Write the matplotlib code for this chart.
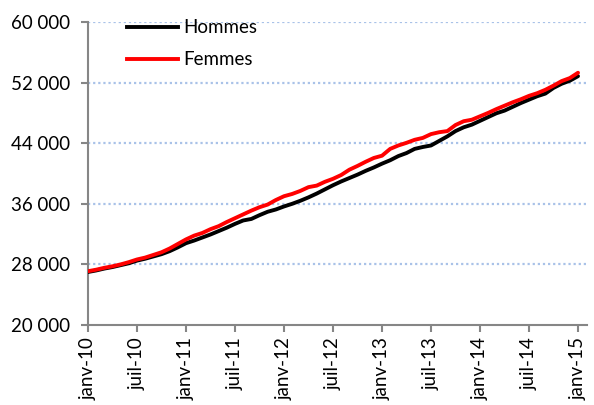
import numpy as np
import matplotlib.pyplot as plt
from matplotlib.lines import Line2D

plt.rcParams['font.family'] = ['Lato', 'DejaVu Sans']

# monthly series, janv-10 .. janv-15
hommes = [27000, 27200, 27450, 27650, 27900, 28150, 28500, 28750, 29050, 29350,
          29750, 30250, 30800, 31150, 31550, 31950, 32400, 32850, 33350, 33800,
          34000, 34500, 34950, 35250, 35650, 36000, 36400, 36850, 37350, 37900,
          38450, 38950, 39400, 39850, 40350, 40800, 41300, 41750, 42300, 42700,
          43250, 43500, 43700, 44300, 44900, 45600, 46100, 46450, 46950, 47450,
          47950, 48300, 48800, 49300, 49750, 50200, 50550, 51300, 51850, 52250,
          52850]
femmes = [27100, 27300, 27550, 27750, 28000, 28300, 28650, 28900, 29250, 29600,
          30100, 30700, 31300, 31800, 32150, 32650, 33050, 33600, 34100, 34600,
          35100, 35550, 35900, 36500, 37000, 37300, 37700, 38200, 38400, 38900,
          39300, 39800, 40500, 41000, 41550, 42050, 42350, 43250, 43700, 44050,
          44450, 44700, 45200, 45450, 45600, 46400, 46900, 47100, 47550, 48000,
          48500, 48950, 49400, 49800, 50250, 50600, 51050, 51600, 52200, 52600,
          53300]
xlabels = ["janv-10", "juil-10", "janv-11", "juil-11", "janv-12", "juil-12",
           "janv-13", "juil-13", "janv-14", "juil-14", "janv-15"]
yticks = [20000, 28000, 36000, 44000, 52000, 60000]

months = np.arange(len(hommes))

fig = plt.figure(figsize=(5.94, 4.05), dpi=100)
ax = fig.add_axes([88 / 594, 1 - 325 / 405, (587 - 88) / 594, (325 - 22) / 405])

ax.plot(months, hommes, color='black', lw=2.8, solid_capstyle='round', zorder=3)
ax.plot(months, femmes, color='#FF0000', lw=2.8, solid_capstyle='round', zorder=4)

ax.set_xlim(0, 61.1)
ax.set_ylim(20000, 60000)
ax.set_yticks(yticks)
ax.set_yticklabels([f"{v:,}".replace(",", " ") for v in yticks])
ax.set_xticks(np.arange(0, 61, 6))
ax.set_xticklabels(xlabels, rotation=90)

for v in yticks[1:]:
    ax.axhline(v, color='#A9C2E8', lw=1.6, ls=(0, (1, 1.3)), zorder=1)

for s in ['top', 'right']:
    ax.spines[s].set_visible(False)
for s in ['left', 'bottom']:
    ax.spines[s].set_color('#868686')
    ax.spines[s].set_linewidth(1.5)
ax.tick_params(axis='both', colors='#868686', width=1.5, length=5, labelsize=13.5,
               labelcolor='black')
ax.tick_params(axis='x', pad=4)
ax.tick_params(axis='y', pad=8)

handles = [Line2D([], [], color='black', lw=2.8), Line2D([], [], color='#FF0000', lw=2.8)]
ax.legend(handles, ["Hommes", "Femmes"], loc='upper left', bbox_to_anchor=(0.045, 1.065),
          frameon=False, fontsize=13.5, handlelength=2.7, handletextpad=0.3,
          labelspacing=0.8)

fig.savefig("out.png", dpi=100)
